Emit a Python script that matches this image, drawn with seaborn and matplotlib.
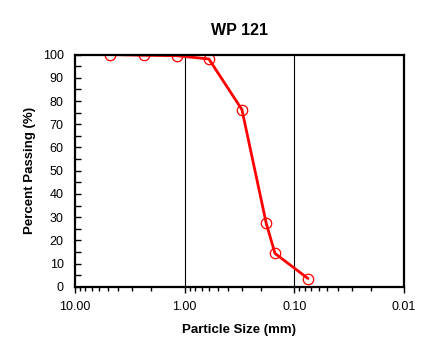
import matplotlib
matplotlib.use("Agg")
import matplotlib.pyplot as plt
import matplotlib.ticker as mticker
import pandas as pd
import seaborn as sns

# sieve data
particle_size = [4.75, 2.36, 1.18, 0.60, 0.30, 0.18, 0.15, 0.075]
percent_passing = [100.0, 99.7, 99.5, 98.1, 76.3, 27.3, 14.4, 3.6]
x_ticks = [10, 1, 0.1, 0.01]
x_ticklabels = ["10.00", "1.00", "0.10", "0.01"]

sns.set_style("ticks")
plt.rcParams['font.family'] = ['Liberation Sans', 'DejaVu Sans']
plt.rcParams['text.color'] = 'black'
plt.rcParams['axes.labelcolor'] = 'black'
plt.rcParams['xtick.color'] = 'black'
plt.rcParams['ytick.color'] = 'black'

df = pd.DataFrame({"size": particle_size, "passing": percent_passing})

fig = plt.figure(figsize=(4.45, 3.52), dpi=100)
ax = fig.add_axes([0.168, 0.185, 0.740, 0.660])

sns.lineplot(data=df, x="size", y="passing", sort=False, ax=ax,
             color="#ff0000", linewidth=2.0, marker="o", markersize=7.5,
             markerfacecolor="none", markeredgecolor="#ff0000",
             markeredgewidth=0.9)

ax.set_xscale("log")
ax.set_xlim(10, 0.01)
ax.set_ylim(0, 100)

# vertical grid at 1.00 and 0.10
for g in [1, 0.1]:
    ax.axvline(g, color="black", linewidth=0.8, zorder=0)

ax.set_xticks(x_ticks)
ax.set_xticklabels(x_ticklabels, fontsize=9)
ax.xaxis.set_minor_locator(mticker.LogLocator(base=10, subs=range(2, 10)))
ax.xaxis.set_minor_formatter(mticker.NullFormatter())
ax.tick_params(axis="x", which="major", direction="out", length=4, width=1, pad=6)
ax.tick_params(axis="x", which="minor", direction="out", length=3, width=1)

ax.set_yticks(range(0, 101, 10))
ax.yaxis.set_minor_locator(mticker.MultipleLocator(5))
ax.tick_params(axis="y", which="both", direction="in", length=4, width=1, labelsize=9, pad=8)

for s in ax.spines.values():
    s.set_color("black")
    s.set_linewidth(1.6)

ax.set_title("WP 121", fontsize=11.5, fontweight="bold", pad=14)
ax.set_xlabel("Particle Size (mm)", fontsize=9.5, fontweight="bold", labelpad=8)
ax.set_ylabel("Percent Passing (%)", fontsize=9.5, fontweight="bold", labelpad=5)

fig.savefig("out.png", dpi=100)
